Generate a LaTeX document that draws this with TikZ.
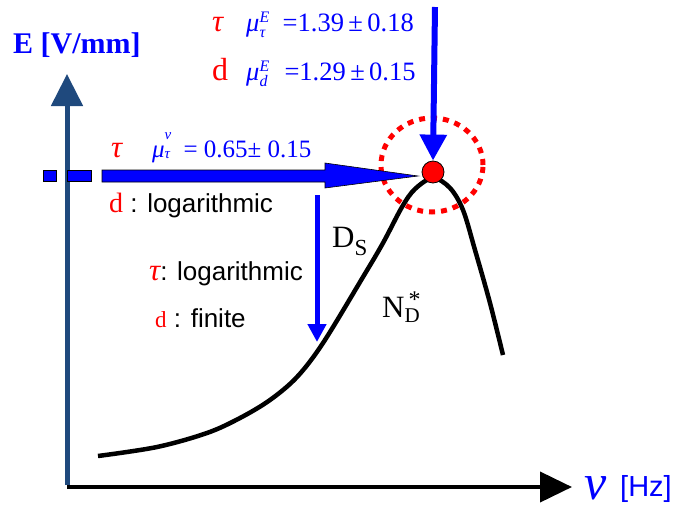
\documentclass[tikz,border=0pt]{standalone}
\usepackage{fontspec}
\setmainfont{Liberation Serif}
\setsansfont{Liberation Sans}
\usepackage{xcolor}
\usepackage{tikz}
\usetikzlibrary{arrows.meta}
\definecolor{LabelBlue}{RGB}{0, 0, 255}
\definecolor{MarkRed}{RGB}{255, 0, 0}
\definecolor{AxisBlue}{RGB}{31, 73, 125}
\newcommand\musubsup[5]{\textit{μ}\rlap{\raisebox{#3}{\fontsize{#5}{#5}\selectfont\textit{#2}}}\raisebox{#4}{\fontsize{#5}{#5}\selectfont\textit{#1}}}

\begin{document}
\begin{tikzpicture}[x=1pt, y=-1pt,
    eqn/.style={anchor=base west, inner sep=0pt, text=LabelBlue, font=\fontsize{26.5}{26.5}\selectfont},
    sym/.style={anchor=base west, inner sep=0pt, text=MarkRed},
    note/.style={anchor=base west, inner sep=0pt, font=\sffamily\fontsize{26}{26}\selectfont},
    pointer/.style={LabelBlue, line width=6pt},
    fastbar/.style={fill=LabelBlue, draw=black, line width=0.6pt},
]
\useasboundingbox (0,0) rectangle (678,507);

\coordinate (origin) at (67,487);
\coordinate (ytip) at (67,74);
\coordinate (xtip) at (572,487);
\coordinate (hstart) at (102,176);
\coordinate (htip) at (418,176);
\coordinate (topstart) at (435,7);
\coordinate (dsstart) at (317,195);
\coordinate (dstip) at (317,342);

\draw[line width=4pt, -{Triangle[length=32pt, width=30pt]}] (origin) -- (xtip);
\draw[AxisBlue, line width=5pt, -{Triangle[length=32pt, width=31pt]}] ([yshift=2pt]origin) -- (ytip);

\draw[line width=4.5pt] plot[smooth, tension=0.55] coordinates {(98,456) (157,447) (207,433) (240,418) (270,400) (297,377) (323,343) (363,277) (383,243) (402,207) (415,189) (433,178) (450,188) (463,210) (475,250) (490,303) (503,355)};

\draw[MarkRed, line width=5pt, dash pattern=on 6pt off 6pt] (432,165) ellipse [x radius=51pt, y radius=47pt];
\node[circle, fill=MarkRed, draw=black, line width=0.8pt, minimum size=22pt, inner sep=0pt] (peak) at (433,172) {};

\path[fastbar] (43,170) rectangle (56,181);
\path[fastbar] (67,170) rectangle (91,181);
\path[fastbar] (hstart) ++(0,-6) -- ++(223,0) -- ++(0,-7) -- (htip) -- ++(-93,12) -- ++(0,-6) -- ++(-223,0) -- cycle;

\draw[pointer, -{Triangle[length=26pt, width=26pt]}] (topstart) -- (peak.north);
\draw[pointer, line width=5pt, -{Triangle[length=18pt, width=18pt]}] (dsstart) -- (dstip);

\node[anchor=base west, inner sep=0pt, text=LabelBlue, font=\bfseries\fontsize{30}{30}\selectfont] (elabel) at (13,53) {E [V/mm]};
\node[anchor=base west, inner sep=0pt, text=LabelBlue, font=\itshape\fontsize{50}{50}\selectfont] (nulabel) at (584,499) {ν};
\node[anchor=base west, inner sep=0pt, text=LabelBlue, font=\sffamily\fontsize{29}{29}\selectfont] (hzlabel) at (620,496) {[Hz]};

\node[sym, font=\itshape\fontsize{31}{31}\selectfont] (tauE) at (212,31) {τ};
\node[eqn] (muTauE) at (246,31) {\musubsup{τ}{E}{9pt}{-6pt}{16}\hspace{17pt}=1.39\,±\,0.18};
\node[sym, font=\fontsize{32}{32}\selectfont] (dE) at (212,80) {d};
\node[eqn] (muDE) at (246,80) {\musubsup{d}{E}{9pt}{-6pt}{16}\hspace{17pt}=1.29\,±\,0.15};

\node[sym, font=\itshape\fontsize{31}{31}\selectfont] (tauNu) at (111,157) {τ};
\node[eqn, font=\fontsize{25}{25}\selectfont] (muTauNu) at (152,157) {\musubsup{τ}{ν}{18pt}{-1pt}{15}\hspace{13pt}= 0.65± 0.15};

\node[note] (dLog) at (109,212) {\textcolor{MarkRed}{\rmfamily\fontsize{28}{28}\selectfont d} : logarithmic};
\node[note] (tauLog) at (149,280) {\textcolor{MarkRed}{\rmfamily\itshape\fontsize{31}{31}\selectfont τ}: logarithmic};
\node[note] (dFin) at (155,327) {\textcolor{MarkRed}{\rmfamily\fontsize{23}{23}\selectfont d} : finite};

\node[anchor=base west, inner sep=0pt, font=\fontsize{31}{31}\selectfont] (ds) at (332,247) {D\raisebox{-8pt}{\fontsize{23}{23}\selectfont S}};
\node[anchor=base west, inner sep=0pt, font=\fontsize{31}{31}\selectfont] (nd) at (382,317) {N\rlap{\hspace{4pt}\raisebox{10pt}{\fontsize{24}{24}\selectfont *}}\raisebox{-5pt}{\fontsize{21}{21}\selectfont D}};
\end{tikzpicture}
\end{document}
